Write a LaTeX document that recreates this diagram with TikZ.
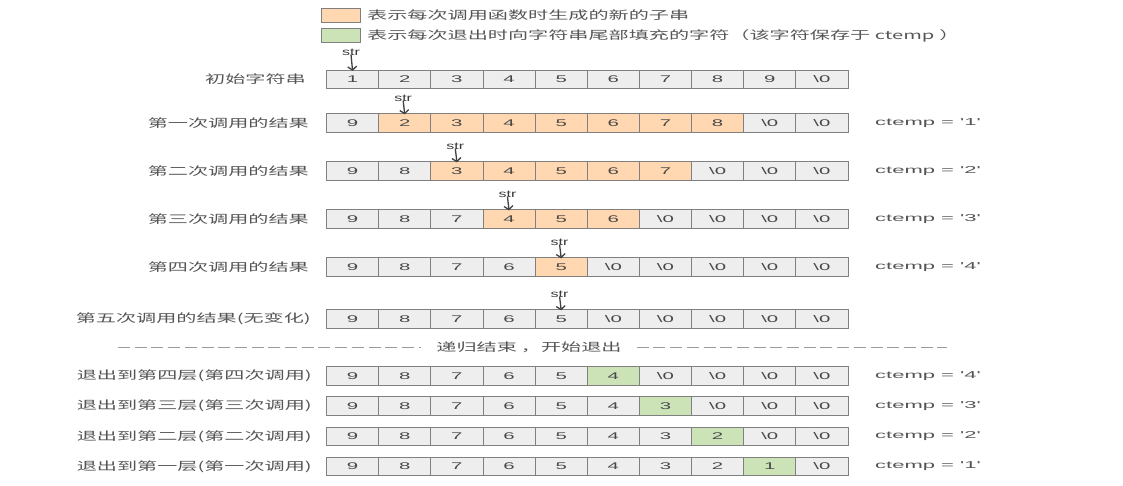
\documentclass[tikz,border=0pt]{standalone}
\usepackage{fontspec}
\usetikzlibrary{arrows.meta}
\newfontfamily\cjk{Noto Sans CJK SC}[FakeStretch=1.75]
\newfontfamily\lat{Liberation Sans}[FakeStretch=2.1]
\newfontfamily\ctf{Liberation Sans}[FakeStretch=2.2]
\newfontfamily\strf{Liberation Sans}[FakeStretch=1.6]
\definecolor{cellgray}{HTML}{EEEEEE}
\definecolor{cellline}{HTML}{808080}
\definecolor{orfill}{HTML}{FFD7B0}
\definecolor{grfill}{HTML}{CCE3B7}
\definecolor{txt}{HTML}{555555}
\definecolor{dashc}{HTML}{9A9A9A}
\newcommand\zz{\textbackslash 0}
\newcommand\cellrow[3]{%
  \foreach [count=\k from 0] \v/\f in {#3} {
    \node[cellbox, fill=\f] (#1c\k) at ({352.575+52.15*\k}, #2) {\v};
  }}
\tikzset{
  cellbox/.style={draw=cellline, line width=0.8pt, minimum width=52.15pt, minimum height=18.5pt,
    inner sep=0pt, text=txt!85!black, font=\lat\fontsize{9.7}{10}\selectfont},
  lbl/.style={anchor=east, inner sep=0pt, text=txt, font=\cjk\fontsize{11.5}{12}\selectfont},
  ctlbl/.style={anchor=west, inner sep=0pt, text=txt, font=\ctf\fontsize{10}{11}\selectfont},
  strlbl/.style={inner sep=0pt, text=txt!70!black, font=\strf\fontsize{10}{11}\selectfont},
  strarrow/.style={-{Straight Barb[length=3.5pt,width=9pt,line width=1.3pt]}, line width=1.3pt, black!75},
  legbox/.style={draw=cellline, line width=0.8pt, minimum width=39pt, minimum height=14pt, inner sep=0pt},
  dashline/.style={draw=dashc, line width=0.8pt, dash pattern=on 12pt off 4.7pt},
}
\begin{document}
\begin{tikzpicture}[x=1pt, y=-1pt]
\useasboundingbox (0,0) rectangle (1123,486);
% legend
\node[legbox, fill=orfill] (lego) at (340.5,15) {};
\node[anchor=west, inner sep=0pt, text=txt, font=\cjk\fontsize{11.5}{12}\selectfont] (legot) at (367,15) {表示每次调用函数时生成的新的子串};
\node[legbox, fill=grfill] (legg) at (340.5,35.5) {};
\node[anchor=west, inner sep=0pt, text=txt, font=\cjk\fontsize{11.5}{12}\selectfont] (leggt) at (367,35.5) {表示每次退出时向字符串尾部填充的字符（该字符保存于 ctemp\hspace{5pt}）};
% rows
\cellrow{r0}{79.5}{1/cellgray,2/cellgray,3/cellgray,4/cellgray,5/cellgray,6/cellgray,7/cellgray,8/cellgray,9/cellgray,\zz/cellgray}
\cellrow{r1}{123}{9/cellgray,2/orfill,3/orfill,4/orfill,5/orfill,6/orfill,7/orfill,8/orfill,\zz/cellgray,\zz/cellgray}
\cellrow{r2}{171}{9/cellgray,8/cellgray,3/orfill,4/orfill,5/orfill,6/orfill,7/orfill,\zz/cellgray,\zz/cellgray,\zz/cellgray}
\cellrow{r3}{219}{9/cellgray,8/cellgray,7/cellgray,4/orfill,5/orfill,6/orfill,\zz/cellgray,\zz/cellgray,\zz/cellgray,\zz/cellgray}
\cellrow{r4}{267}{9/cellgray,8/cellgray,7/cellgray,6/cellgray,5/orfill,\zz/cellgray,\zz/cellgray,\zz/cellgray,\zz/cellgray,\zz/cellgray}
\cellrow{r5}{319}{9/cellgray,8/cellgray,7/cellgray,6/cellgray,5/cellgray,\zz/cellgray,\zz/cellgray,\zz/cellgray,\zz/cellgray,\zz/cellgray}
\cellrow{e4}{376}{9/cellgray,8/cellgray,7/cellgray,6/cellgray,5/cellgray,4/grfill,\zz/cellgray,\zz/cellgray,\zz/cellgray,\zz/cellgray}
\cellrow{e3}{406}{9/cellgray,8/cellgray,7/cellgray,6/cellgray,5/cellgray,4/cellgray,3/grfill,\zz/cellgray,\zz/cellgray,\zz/cellgray}
\cellrow{e2}{436.5}{9/cellgray,8/cellgray,7/cellgray,6/cellgray,5/cellgray,4/cellgray,3/cellgray,2/grfill,\zz/cellgray,\zz/cellgray}
\cellrow{e1}{466.5}{9/cellgray,8/cellgray,7/cellgray,6/cellgray,5/cellgray,4/cellgray,3/cellgray,2/cellgray,1/grfill,\zz/cellgray}
% left labels
\node[lbl] (l0) at (306,79.5) {初始字符串};
\node[lbl] (l1) at (309,123) {第一次调用的结果};
\node[lbl] (l2) at (309,171) {第二次调用的结果};
\node[lbl] (l3) at (309,219) {第三次调用的结果};
\node[lbl] (l4) at (309,267) {第四次调用的结果};
\node[lbl] (l5) at (311,319) {第五次调用的结果(无变化)};
\node[lbl] (m4) at (312,376) {退出到第四层(第四次调用)};
\node[lbl] (m3) at (312,406) {退出到第三层(第三次调用)};
\node[lbl] (m2) at (312,436.5) {退出到第二层(第二次调用)};
\node[lbl] (m1) at (312,466.5) {退出到第一层(第一次调用)};
% ctemp labels
\node[ctlbl] (c1) at (875,123) {ctemp = '1'};
\node[ctlbl] (c2) at (875,171) {ctemp = '2'};
\node[ctlbl] (c3) at (875,219) {ctemp = '3'};
\node[ctlbl] (c4) at (875,267) {ctemp = '4'};
\node[ctlbl] (d4) at (875,376) {ctemp = '4'};
\node[ctlbl] (d3) at (875,406) {ctemp = '3'};
\node[ctlbl] (d2) at (875,436.5) {ctemp = '2'};
\node[ctlbl] (d1) at (875,466.5) {ctemp = '1'};
% str pointers
\foreach \r/\c/\y in {r0/0/52, r1/1/98, r2/2/146, r3/3/194, r4/4/242, r5/4/294} {
  \node[strlbl] (s\r) at ({351+52.15*\c}, \y) {str};
  \draw[strarrow] (s\r.south) ++(0,-1) -- ([yshift=-1pt]\r c\c.north);
}
% separator
\node[inner xsep=15pt, inner ysep=0pt, text=txt, font=\cjk\fontsize{11.5}{12}\selectfont] (sep) at (529,347) {递归结束\hspace{4pt}，开始退出};
\coordinate (sepl) at (118,347);
\coordinate (sepr) at (947,347);
\draw[dashline] (sepl) -- (sep.west);
\draw[dashline] (sep.east) -- (sepr);
\end{tikzpicture}
\end{document}
